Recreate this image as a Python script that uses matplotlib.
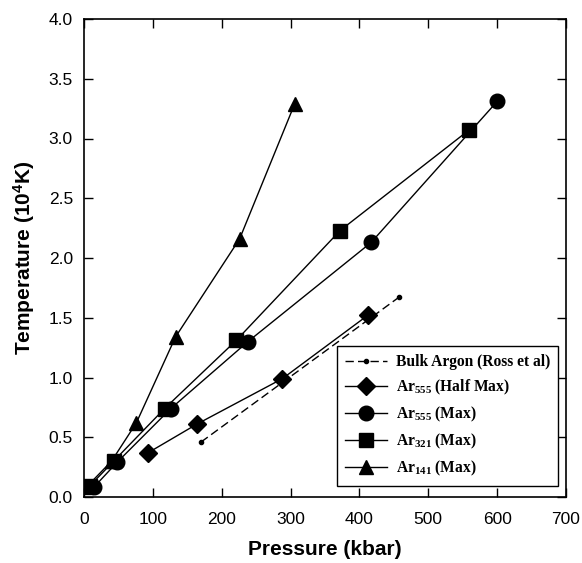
import matplotlib
matplotlib.use("Agg")
import matplotlib.pyplot as plt

plt.rcParams['mathtext.fontset'] = 'custom'
plt.rcParams['mathtext.rm'] = 'Liberation Serif:bold'
plt.rcParams['mathtext.it'] = 'Liberation Serif:bold'
plt.rcParams['mathtext.bf'] = 'Liberation Serif:bold'
plt.rcParams['mathtext.sf'] = 'Liberation Sans:bold'

# Data (pressure in kbar, temperature in 10^4 K)
bulk_p = [170, 457]
bulk_t = [0.46, 1.67]

half555_p = [93, 164, 288, 412]
half555_t = [0.37, 0.61, 0.99, 1.52]

max555_p = [14, 48, 126, 238, 417, 600]
max555_t = [0.08, 0.29, 0.74, 1.30, 2.13, 3.31]

max321_p = [8, 43, 117, 221, 372, 559]
max321_t = [0.09, 0.30, 0.74, 1.31, 2.23, 3.07]

max141_p = [3, 40, 76, 133, 226, 306]
max141_t = [0.08, 0.30, 0.62, 1.34, 2.16, 3.29]

labels = ['Bulk Argon (Ross et al)', r'Ar$_{555}$ (Half Max)', r'Ar$_{555}$ (Max)',
          r'Ar$_{321}$ (Max)', r'Ar$_{141}$ (Max)']
xticks = [0, 100, 200, 300, 400, 500, 600, 700]
yticks = [0.0, 0.5, 1.0, 1.5, 2.0, 2.5, 3.0, 3.5, 4.0]

fig = plt.figure(figsize=(5.82, 5.63), dpi=100)
ax = fig.add_axes([84/582, 66/563, 482/582, 478/563])

lw = 1.0
ax.plot(bulk_p, bulk_t, color='black', ls=(0, (6, 3)), lw=lw, marker='o', ms=3, label=labels[0])
ax.plot(half555_p, half555_t, color='black', lw=lw, marker='D', ms=9.5, label=labels[1])
ax.plot(max555_p, max555_t, color='black', lw=lw, marker='o', ms=10.5, label=labels[2])
ax.plot(max321_p, max321_t, color='black', lw=lw, marker='s', ms=9.5, label=labels[3])
ax.plot(max141_p, max141_t, color='black', lw=lw, marker='^', ms=10.5, label=labels[4])

ax.set_xlim(0, 700)
ax.set_ylim(0, 4.0)
ax.set_xticks(xticks)
ax.set_yticks(yticks)
ax.set_yticklabels([f'{v:.1f}' for v in yticks])
ax.tick_params(direction='in', length=6.5, width=1, top=True, right=True,
               labelsize=12.5)
ax.tick_params(axis='x', pad=11)
ax.tick_params(axis='y', pad=8)
for lab in ax.get_xticklabels() + ax.get_yticklabels():
    lab.set_family('Liberation Sans')
for s in ax.spines.values():
    s.set_linewidth(1.2)

ax.set_xlabel('Pressure (kbar)', fontsize=15, fontweight='bold', family='Liberation Sans', labelpad=9)
ax.set_ylabel(r'Temperature (10$^{\mathsf{4}}$K)', fontsize=15, fontweight='bold',
              family='Liberation Sans', labelpad=8)

leg = ax.legend(loc='lower right', bbox_to_anchor=(0.984, 0.023), borderaxespad=0,
                prop={'family': 'Liberation Serif', 'weight': 'bold', 'size': 11.2},
                frameon=True, fancybox=False, framealpha=1, edgecolor='black',
                handlelength=2.7, handletextpad=0.6, labelspacing=0.5, borderpad=0.5)
leg.get_frame().set_linewidth(1.0)

fig.savefig('out.png', dpi=100)
